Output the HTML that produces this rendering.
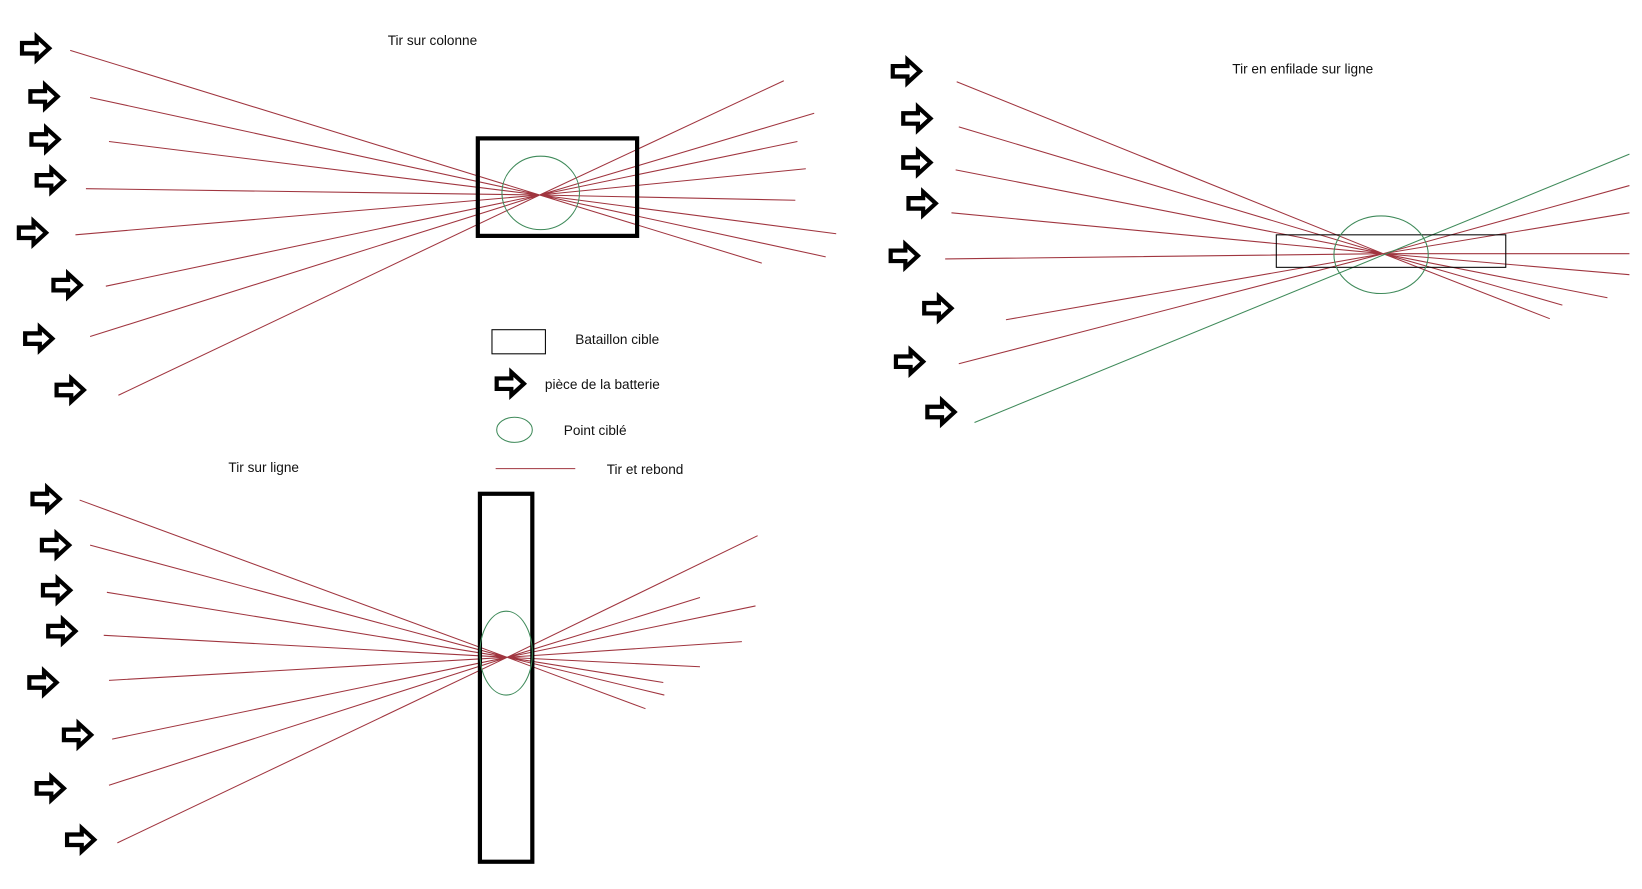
<!DOCTYPE html>
<html><head><meta charset="utf-8"><style>
html,body{margin:0;padding:0;background:#fff;width:1642px;height:889px;overflow:hidden}
svg{display:block}
text{font-family:"Liberation Sans",sans-serif;font-size:13px;fill:#111}
</style></head><body>
<svg width="1642" height="889" viewBox="0 0 1567 848" preserveAspectRatio="none" xmlns="http://www.w3.org/2000/svg">
<defs>
<path id="ar" d="M2 8 H16 V2 L28 13 L16 24 V18 H2 Z" fill="#fff" stroke="#000" stroke-width="4" stroke-linejoin="miter"/>
</defs>
<g stroke="#a0353f" stroke-width="1" fill="none">
<!-- panel 1 -->
<path d="M67 48L515 186M86 93L515 186M104 135L515 186M82 180L515 186M72 224L515 186M101 273L515 186M86 321L515 186M113 377L515 186"/>
<path d="M515 186L748 77M515 186L777 108M515 186L761 135M515 186L769 161M515 186L759 191M515 186L798 223M515 186L788 245M515 186L727 251"/>
<!-- panel 2 -->
<path d="M913 78L1320 242M915 121L1320 242M912 162L1320 242M908 203L1320 242M902 247L1320 242M960 305L1320 242M915 347L1320 242"/>
<path d="M1320 242L1555 177M1320 242L1555 203M1320 242L1555 242M1320 242L1555 262M1320 242L1534 284M1320 242L1491 291M1320 242L1479 304"/>
<!-- panel 3 -->
<path d="M76 477L484 627M86 520L484 627M102 565L484 627M99 606L484 627M104 649L484 627M107 705L484 627M104 749L484 627M112 804L484 627"/>
<path d="M484 627L723 511M484 627L668 570M484 627L721 578M484 627L708 612M484 627L668 636M484 627L633 651M484 627L634 663M484 627L616 676"/>
<path d="M473 447H549"/>
</g>
<path d="M930 403L1555 147" stroke="#3f8a5a" stroke-width="1"/>
<!-- rects -->
<rect x="456" y="132" width="152" height="93" fill="none" stroke="#000" stroke-width="4"/>
<rect x="1218" y="224" width="219" height="31" fill="none" stroke="#000" stroke-width="1"/>
<rect x="458" y="471" width="50" height="351" fill="none" stroke="#000" stroke-width="4"/>
<rect x="469.5" y="314.5" width="51" height="23" fill="none" stroke="#000" stroke-width="1"/>
<!-- ellipses -->
<g fill="none" stroke="#3f8a5a" stroke-width="1">
<ellipse cx="516" cy="184" rx="37" ry="35"/>
<ellipse cx="1318" cy="243" rx="45" ry="37"/>
<ellipse cx="483" cy="623" rx="25" ry="40"/>
<ellipse cx="491" cy="410" rx="17" ry="12"/>
</g>
<!-- arrows -->
<use href="#ar" x="19" y="33"/><use href="#ar" x="27" y="79"/><use href="#ar" x="28" y="120"/><use href="#ar" x="33" y="159"/>
<use href="#ar" x="16" y="209"/><use href="#ar" x="49" y="259"/><use href="#ar" x="22" y="310"/><use href="#ar" x="52" y="359"/>
<use href="#ar" x="850" y="55"/><use href="#ar" x="860" y="100"/><use href="#ar" x="860" y="142"/><use href="#ar" x="865" y="181"/>
<use href="#ar" x="848" y="231"/><use href="#ar" x="880" y="281"/><use href="#ar" x="853" y="332"/><use href="#ar" x="883" y="380"/>
<use href="#ar" x="29" y="463"/><use href="#ar" x="38" y="507"/><use href="#ar" x="39" y="550"/><use href="#ar" x="44" y="589"/>
<use href="#ar" x="26" y="638"/><use href="#ar" x="59" y="688"/><use href="#ar" x="33" y="739"/><use href="#ar" x="62" y="788"/>
<use href="#ar" x="472" y="353"/>
<!-- text -->
<text x="370" y="43">Tir sur colonne</text>
<text x="1176" y="70">Tir en enfilade sur ligne</text>
<text x="218" y="450">Tir sur ligne</text>
<text x="549" y="328">Bataillon cible</text>
<text x="520" y="371">pièce de la batterie</text>
<text x="538" y="415">Point ciblé</text>
<text x="579" y="452">Tir et rebond</text>
</svg>
</body></html>
